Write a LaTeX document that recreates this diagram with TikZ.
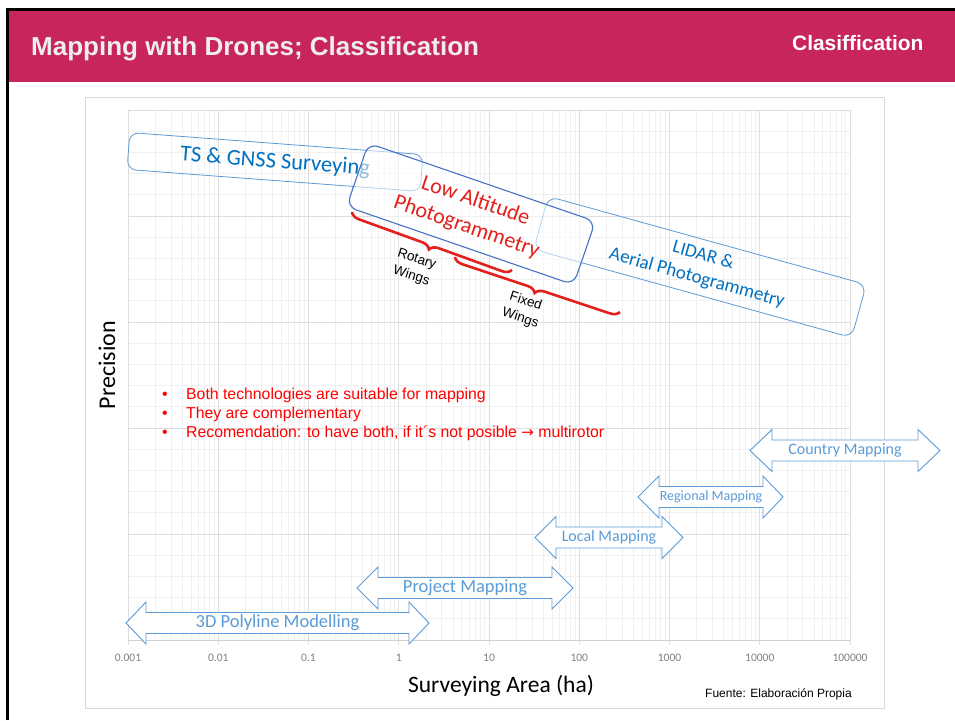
\documentclass[tikz,border=0pt]{standalone}
\usepackage{fontspec}
\setmainfont{Carlito}
\newfontfamily\arial{Liberation Sans}
\newfontfamily\djv{DejaVu Sans}
\usetikzlibrary{decorations.pathreplacing}
\definecolor{hdrred}{HTML}{C8255A}
\definecolor{ltblue}{HTML}{5B9BD5}
\definecolor{dkblue}{HTML}{4472C4}
\definecolor{txtblue}{HTML}{0070C0}
\definecolor{brred}{HTML}{E3201B}
\definecolor{bulred}{HTML}{FF0000}
\definecolor{gridmaj}{HTML}{DEDEDE}
\definecolor{gridmin}{HTML}{F0F0F0}
\definecolor{chartbd}{HTML}{D9D9D9}
\definecolor{ticktxt}{HTML}{808080}
\definecolor{titletxt}{HTML}{EEEEEE}
\tikzset{
  gridminor/.style={draw=gridmin, line width=0.8pt},
  gridmajor/.style={draw=gridmaj, line width=1pt},
  roundbox/.style={rounded corners=9pt, draw=ltblue, line width=0.8pt, inner sep=0pt},
  arrowshape/.style={draw=ltblue, fill=white, line width=0.9pt, line join=miter},
  arrowtext/.style={text=ltblue, inner sep=0pt},
  bracestyle/.style={draw=brred, line width=2.6pt, decorate, decoration={brace, mirror, amplitude=9pt}},
  wingtext/.style={font=\arial\fontsize{13.5}{17.5}\selectfont, align=center, rotate=-18, inner sep=0pt},
  ticklab/.style={font=\fontsize{11.5}{11.5}\selectfont, text=ticktxt, anchor=base, inner sep=0pt},
  bullettext/.style={font=\arial\fontsize{15.8}{19}\selectfont, text=bulred, anchor=base west, inner sep=0pt},
}
\newcommand\dblarr[8]{%
  \draw[arrowshape] (#2,#6) -- (#3,#6-21) -- (#3,#6-10.5) -- (#4,#6-10.5) -- (#4,#6-21)
     -- (#5,#6) -- (#4,#6+21) -- (#4,#6+10.5) -- (#3,#6+10.5) -- (#3,#6+21) -- cycle;
  \node[arrowtext, font=\fontsize{#8}{#8}\selectfont] (#1) at ({(#3+#4)/2},#6) {#7};
}
\begin{document}
\begin{tikzpicture}[x=1pt,y=-1pt]
\useasboundingbox (0,0) rectangle (955,720);
\fill[white] (0,0) rectangle (955,720);
% header
\fill[hdrred] (9,10.5) rectangle (955,82);
\draw[black, line width=2.8pt] (7.5,720) -- (7.5,9.5) -- (955,9.5);
\node[font=\arial\bfseries\fontsize{26}{26}\selectfont, text=titletxt, anchor=base west, inner sep=0pt] (title) at (31,55.5) {Mapping with Drones; Classification};
\node[font=\arial\bfseries\fontsize{20.9}{20.9}\selectfont, text=white, anchor=base west, inner sep=0pt] (tag) at (792,50.5) {Clasiffication};
% chart border
\draw[chartbd, line width=1pt] (85,97) rectangle (884,708);
% grid
\foreach \d in {0,...,7}{
  \foreach \m in {0.30103,0.47712,0.60206,0.69897,0.77815,0.84510,0.90309,0.95424}{
    \draw[gridminor] ({128+90.25*(\d+\m)},110) -- ({128+90.25*(\d+\m)},640);
  }
}
\foreach \i in {1,2,3,4,6,7,8,9,11,12,13,14,16,17,18,19,21,22,23,24}{
  \draw[gridminor] (128,{110+21.2*\i}) -- (850,{110+21.2*\i});
}
\foreach \i in {0,5,10,15,20}{
  \draw[gridmajor] (128,{110+21.2*\i}) -- (850,{110+21.2*\i});
}
\foreach \d in {0,...,8}{
  \draw[gridmajor] ({128+90.25*\d},110) -- ({128+90.25*\d},645);
}
\draw[draw=gridmaj!80!black!30!gridmaj, line width=1pt] (128,640) -- (850,640);
% tick labels
\foreach \lab [count=\c from 0] in {0.001,0.01,0.1,1,10,100,1000,10000,100000}{
  \node[ticklab] (tick\c) at ({128+90.25*\c},661) {\lab};
}
% axis titles
\node[font=\fontsize{24}{24}\selectfont, rotate=90, anchor=base, inner sep=0pt] (ylab) at (115,365) {Precision};
\node[font=\fontsize{23.5}{23.5}\selectfont, anchor=base, inner sep=0pt] (xlab) at (501,692) {Surveying Area (ha)};
\node[font=\arial\fontsize{12}{12}\selectfont, anchor=base west, inner sep=0pt] (src) at (705,697) {Fuente: Elaboración Propia};
% boxes
\node[roundbox, minimum width=294pt, minimum height=37pt, rotate=-4.3, text=txtblue, font=\fontsize{22.5}{26}\selectfont] (ts) at (275,162) {TS \& GNSS Surveying};
\node[roundbox, rounded corners=10pt, minimum width=330pt, minimum height=55pt, rotate=-15.5, align=center, text=txtblue, font=\fontsize{19}{23.5}\selectfont] (lidar) at (700,267) {LIDAR \&\\Aerial Photogrammetry};
\node[roundbox, rounded corners=10pt, draw=dkblue, line width=1.1pt, fill=white, fill opacity=0.55, text opacity=1, minimum width=240pt, minimum height=67pt, rotate=-19, align=center, text=brred, font=\fontsize{22}{27.5}\selectfont] (low) at (471,214) {Low Altitude\\Photogrammetry};
% braces
\coordinate (rw1) at (352,212);
\coordinate (rw2) at (512,270);
\coordinate (fw1) at (455,257);
\coordinate (fw2) at (620,312);
\draw[bracestyle] (rw1) -- (rw2);
\draw[bracestyle] (fw1) -- (fw2);
\node[wingtext] (rotary) at (414,268) {Rotary\\Wings};
\node[wingtext] (fixed) at (523,310) {Fixed\\Wings};
% bullets
\foreach \t/\yy [count=\c] in {Both technologies are suitable for mapping/399, They are complementary/418}{
  \node[bullettext] (bt\c) at (186,\yy) {\t};
  \node[bullettext] (bu\c) at (162,\yy) {•};
}
\node[bullettext] (bt3) at (186,437) {Recomendation: to have both, if it´s not posible {\djv\fontsize{15}{19}\selectfont →} multirotor};
\node[bullettext] (bu3) at (162,437) {•};
% double arrows
\dblarr{country}{750}{772}{918}{940}{450.5}{Country Mapping}{16}
\dblarr{regional}{638}{659}{763}{783}{497}{Regional Mapping}{14}
\dblarr{local}{535}{556}{662}{683}{537.5}{Local Mapping}{16}
\dblarr{project}{357}{378}{552}{573}{588}{Project Mapping}{18.5}
\dblarr{poly}{126}{146}{409}{429}{623}{3D Polyline Modelling}{18.5}
\end{tikzpicture}
\end{document}
